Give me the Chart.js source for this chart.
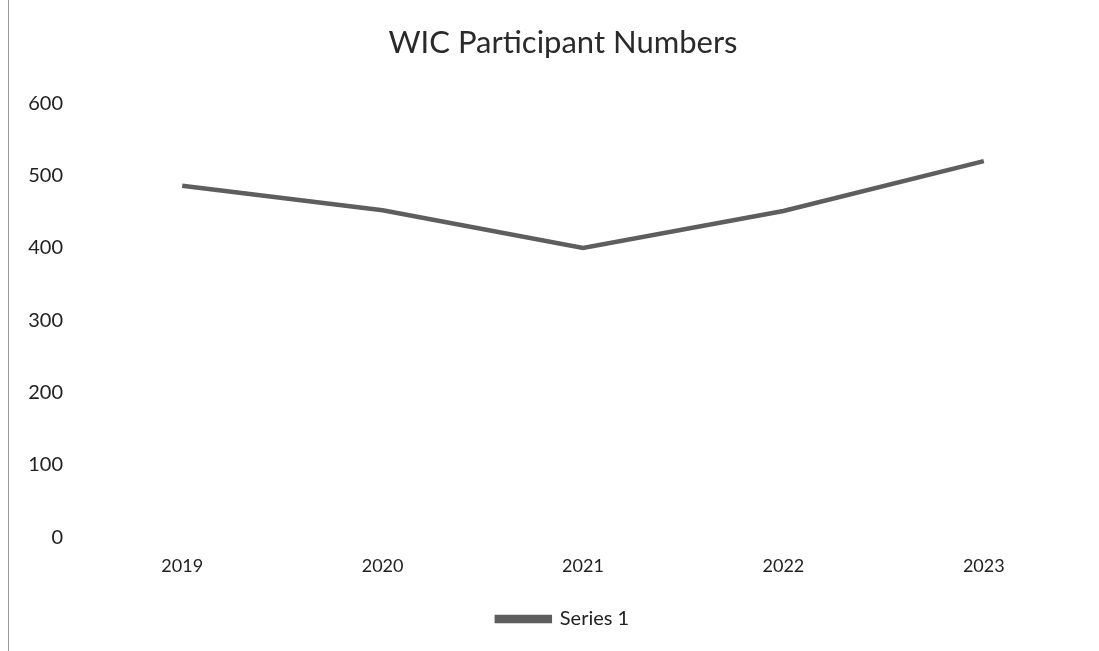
<!DOCTYPE html>
<html>
<head>
<meta charset="utf-8">
<script src="https://cdn.jsdelivr.net/npm/chart.js@4"></script>
<style>
  html, body { margin: 0; padding: 0; background: #fff; overflow: hidden; }
  #wrap {
    position: absolute; left: 8px; top: 0;
    width: 1108px; height: 651px;
    border-left: 1px solid #9a9a9a;
  }
</style>
</head>
<body>
<div id="wrap"><canvas id="myChart"></canvas></div>
<script>
const years = ["2019", "2020", "2021", "2022", "2023"];
const participants = [486, 452, 400, 451, 520];
const seriesName = "Series 1";
const chartTitle = "WIC Participant Numbers";
const yMin = 0, yMax = 600, yStep = 100;

const ctx = document.getElementById("myChart");
const font = "Lato, 'Open Sans', sans-serif";

Chart.defaults.font.family = font;
Chart.defaults.color = "#222";

new Chart(ctx, {
  type: "line",
  data: {
    labels: years,
    datasets: [{
      label: seriesName,
      data: participants,
      borderColor: "#5e5e5e",
      backgroundColor: "#7a7a7a",
      borderWidth: 4.5,
      pointRadius: 0,
      tension: 0,
    }],
  },
  options: {
    responsive: true,
    maintainAspectRatio: false,
    animation: false,
    layout: { padding: { left: 0, right: 0, top: 0, bottom: 12 } },
    plugins: {
      title: {
        display: true,
        text: chartTitle,
        color: "#2a2a2a",
        font: { size: 31, weight: "normal" },
        padding: { top: 24, bottom: 42 },
      },
      legend: {
        position: "bottom",
        labels: {
          boxWidth: 53,
          boxHeight: 4,
          color: "#222",
          font: { size: 20 },
          padding: 14,
        },
      },
      tooltip: { enabled: false },
    },
    scales: {
      x: {
        offset: true,
        grid: { display: false, drawTicks: false },
        border: { display: false },
        ticks: { padding: 18, font: { size: 18 }, color: "#222" },
      },
      y: {
        min: yMin,
        max: yMax,
        grid: { display: false, drawTicks: false },
        border: { display: false },
        ticks: { stepSize: yStep, padding: 19, font: { size: 20 }, color: "#222" },
        afterFit: (s) => { s.width = 73; },
      },
      // empty right axis only keeps the plot off the right edge
      yRight: {
        position: "right",
        grid: { display: false, drawTicks: false },
        border: { display: false },
        ticks: { display: false },
        afterFit: (s) => { s.width = 33; },
      },
    },
  },
});
</script>
</body>
</html>
